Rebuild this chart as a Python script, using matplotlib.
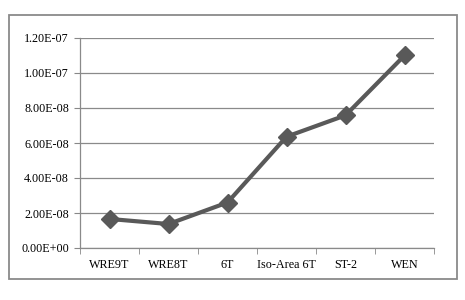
import matplotlib
matplotlib.use("Agg")
import matplotlib.pyplot as plt
from matplotlib.patches import Rectangle

categories = ["WRE9T", "WRE8T", "6T", "Iso-Area 6T", "ST-2", "WEN"]
values = [1.66e-8, 1.37e-8, 2.60e-8, 6.36e-8, 7.58e-8, 1.10e-7]
yticks = [0, 2e-8, 4e-8, 6e-8, 8e-8, 1.0e-7, 1.2e-7]
ytick_labels = ["0.00E+00", "2.00E-08", "4.00E-08", "6.00E-08",
                "8.00E-08", "1.00E-07", "1.20E-07"]

plt.rcParams["font.family"] = ["Liberation Serif", "DejaVu Serif"]

fig = plt.figure(figsize=(4.65, 3.0), dpi=100)
W, H = 465, 300
ax = fig.add_axes([80 / W, 1 - 248 / H, (434 - 80) / W, (248 - 38) / H])

# outer chart frame
fig.patches.append(Rectangle((8.5 / W, 1 - 279 / H), (457 - 8.5) / W, (279 - 15) / H,
                             transform=fig.transFigure, fill=False,
                             edgecolor="#8a8a8a", linewidth=1.3))

xs = range(len(categories))
ax.plot(xs, values, color="#595959", linewidth=3, marker="D",
        markersize=9, markerfacecolor="#595959", markeredgecolor="#595959",
        zorder=3)

ax.set_xlim(-0.5, len(categories) - 0.5)
ax.set_ylim(0, 1.2e-7)
ax.set_yticks(yticks)
ax.set_yticklabels(ytick_labels, fontsize=8.7)
ax.set_xticks(list(xs))
ax.set_xticklabels(categories, fontsize=8.7)
ax.set_xticks([i - 0.5 for i in range(len(categories) + 1)], minor=True)
ax.tick_params(axis="x", which="major", length=0, pad=8)
ax.tick_params(axis="x", which="minor", length=4, color="#888888", direction="out")
ax.tick_params(axis="y", length=4, color="#888888", direction="out", pad=4)

ax.grid(axis="y", color="#8a8a8a", linewidth=0.9)
ax.set_axisbelow(True)
for s in ["top", "right"]:
    ax.spines[s].set_visible(False)
for s in ["left", "bottom"]:
    ax.spines[s].set_color("#8a8a8a")
    ax.spines[s].set_linewidth(0.9)

fig.savefig("out.png", dpi=100)
